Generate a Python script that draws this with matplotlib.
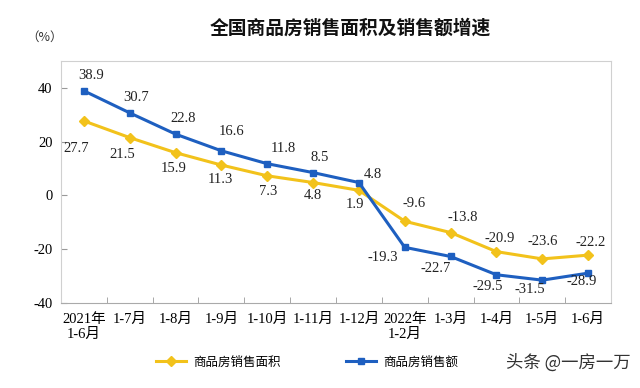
import numpy as np
import matplotlib.pyplot as plt

plt.rcParams['font.family'] = ['Liberation Serif', 'Noto Sans CJK SC']

months = ['2021年\n1-6月', '1-7月', '1-8月', '1-9月', '1-10月', '1-11月', '1-12月',
          '2022年\n1-2月', '1-3月', '1-4月', '1-5月', '1-6月']
area = [27.7, 21.5, 15.9, 11.3, 7.3, 4.8, 1.9, -9.6, -13.8, -20.9, -23.6, -22.2]
sales = [38.9, 30.7, 22.8, 16.6, 11.8, 8.5, 4.8, -19.3, -22.7, -29.5, -31.5, -28.9]

# label offsets in pixels (center of text relative to point)
area_off = [(-8, -28), (-7, -17), (-2, -16), (-1, -14), (1, -16), (0, -13), (-4, -14),
            (9, 18), (12, 15), (3, 13), (0, 17), (3, 13)]
sales_off = [(7, 15), (6, 15), (8, 16), (10, 19), (16, 15), (7, 15), (14, 8),
             (-22, -10), (-15, -12), (-9, -12), (-12, -9), (-6, -8)]

yellow = '#F2C21B'
blue = '#1E5FC0'

fig = plt.figure(figsize=(6.4, 3.88), dpi=100)
ax = fig.add_axes([61/640, 1-303/388, 550/640, 242/388])
x = np.arange(len(months))

l1, = ax.plot(x, area, color=yellow, lw=2.2, marker='D', ms=5, label='商品房销售面积')
l2, = ax.plot(x, sales, color=blue, lw=2.2, marker='s', ms=5, label='商品房销售额')

for xi, v, (dx, dy) in zip(x, area, area_off):
    ax.annotate(f'{v}', (xi, v), xytext=(dx, dy), textcoords='offset pixels',
                ha='center', va='center', fontsize=10.5, color='#222222')
for xi, v, (dx, dy) in zip(x, sales, sales_off):
    ax.annotate(f'{v}', (xi, v), xytext=(dx, dy), textcoords='offset pixels',
                ha='center', va='center', fontsize=10.5, color='#222222')

ax.set_xlim(-0.5, 11.5)
ax.set_ylim(-40, 50)
ax.set_yticks([-40, -20, 0, 20, 40])
ax.set_yticklabels(['-40', '-20', '0', '20', '40'], fontsize=10.5)
ax.set_xticks(x)
ax.set_xticklabels(months, fontsize=10.5, linespacing=1.2, va='top')
ax.tick_params(axis='x', length=0, pad=7)
ax.set_xticks(np.arange(0.5, 11, 1), minor=True)
ax.tick_params(axis='x', which='minor', direction='in', length=4, color='#999999')
ax.tick_params(axis='y', direction='in', length=4, color='#999999', pad=6)

for s in ['top', 'right', 'left']:
    ax.spines[s].set_color('#d0d0d0')
    ax.spines[s].set_linewidth(0.8)
ax.spines['bottom'].set_color('#aaaaaa')

fig.text(350/640, 1-28/388, '全国商品房销售面积及销售额增速', ha='center', va='center',
         fontsize=13.5, fontweight='bold', family='Noto Sans CJK SC', color='#111111')
fig.text(45/640, 1-37/388, '（%）', ha='center', va='center', fontsize=9,
         family='Noto Sans CJK SC', color='#333333')

fig.legend(handles=[l1, l2], loc='center', bbox_to_anchor=(307/640, 1-362/388),
           ncol=2, frameon=False, handlelength=2.4, handletextpad=0.6, columnspacing=5.2,
           prop={'family': ['Noto Sans CJK SC'], 'size': 9})
fig.text(568/640, 1-363/388, '头条 @一房一万', ha='center', va='center', fontsize=12.5,
         family='Noto Sans CJK SC', color='#333333')

fig.savefig('out.png', dpi=100)
